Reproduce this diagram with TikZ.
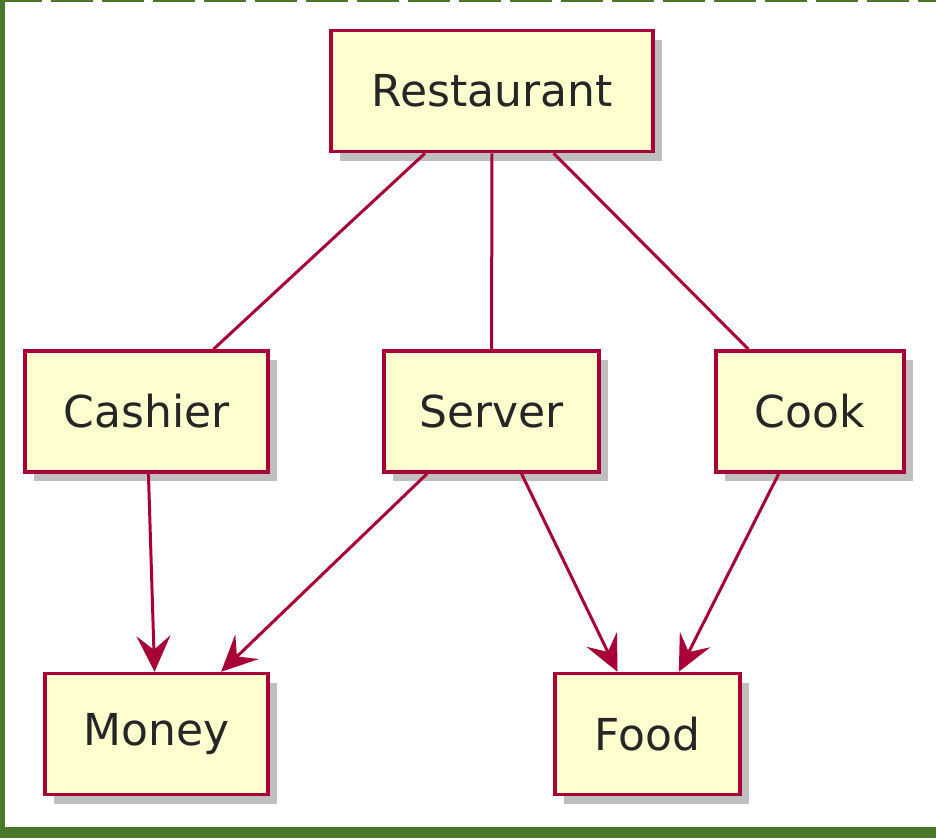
\documentclass[tikz,border=0pt]{standalone}
\usepackage{fontspec}
\setmainfont{DejaVu Sans}
\usetikzlibrary{arrows.meta, shadows, positioning}
\definecolor{umlred}{HTML}{A80036}
\definecolor{umlfill}{HTML}{FEFECE}
\definecolor{framegreen}{HTML}{4A7729}

\begin{document}
\begin{tikzpicture}[x=1pt, y=-1pt,
    box/.style={draw=umlred, fill=umlfill, line width=3.5pt, inner sep=0pt,
      minimum height=121pt, font=\fontsize{44}{52}\selectfont, text=black!85,
      drop shadow={shadow xshift=9pt, shadow yshift=-9pt, fill=black, opacity=0.25}},
    link/.style={draw=umlred, line width=3pt},
    flow/.style={link, -{Stealth[length=36pt, width=34pt, inset=14pt]}}]
      \useasboundingbox (0,0) rectangle (936,838);

      %► Frame
      \fill[framegreen] (0,827) rectangle (936,838);                           % bottom band
      \draw[framegreen, line width=5pt] (2.5,0) -- (2.5,827);                  % left side
      \draw[framegreen, line width=4pt, dash pattern=on 42pt off 9pt] (0,0) -- (936,0); % top

      %► Boxes
      \node[box, minimum width=322pt] (restaurant) at (492,91)    {Restaurant};
      \node[box, minimum width=243pt] (cashier)    at (146.5,411.5) {Cashier};
      \node[box, minimum width=215pt] (server)     at (491.5,411.5) {Server};
      \node[box, minimum width=188pt] (cook)       at (810,411.5)   {Cook};
      \node[box, minimum width=223pt] (money)      at (156.5,734)   {Money};
      \node[box, minimum width=185pt] (food)       at (647.5,734)   {Food};

      %► Plain links
      \draw[link] (restaurant) -- (cashier);
      \draw[link] (restaurant) -- (server);
      \draw[link] (restaurant) -- (cook);

      %► Arrows
      \draw[flow] (cashier) -- (money);
      \draw[flow] (server)  -- (money);
      \draw[flow] (server)  -- (food);
      \draw[flow] (cook)    -- (food);
\end{tikzpicture}
\end{document}
